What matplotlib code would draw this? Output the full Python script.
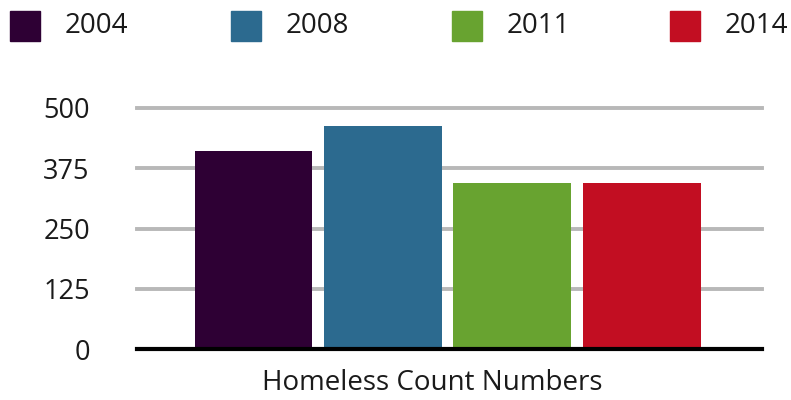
import matplotlib
matplotlib.use("Agg")
import matplotlib.pyplot as plt
from matplotlib.patches import Rectangle

# Data
years = ["2004", "2008", "2011", "2014"]
counts = [410, 462, 344, 344]
colors = ["#2e0034", "#2c6a8f", "#68a330", "#c20e22"]
y_ticks = [0, 125, 250, 375, 500]
x_label = "Homeless Count Numbers"

W, H, DPI = 791, 400, 100
plt.rcParams["font.family"] = ["Open Sans", "DejaVu Sans"]

fig = plt.figure(figsize=(W / DPI, H / DPI), dpi=DPI)
ax = fig.add_axes([137 / W, 1 - 349 / H, (762 - 137) / W, (349 - 108) / H])

positions = list(range(len(years)))
ax.bar(positions, counts, width=0.91, color=colors, zorder=3)

ax.set_xlim(-0.9, 3.93)
ax.set_ylim(0, 500)
ax.set_yticks(y_ticks)
ax.set_yticklabels([str(t) for t in y_ticks], fontsize=19.5, color="#1a1a1a")
ax.set_xticks([])
ax.tick_params(axis="y", length=0, pad=34)
ax.yaxis.grid(True, color="#b8b8b8", linewidth=2.8, zorder=0)
for gl in ax.get_ygridlines():
    gl.set_clip_on(False)
ax.set_axisbelow(True)
for side in ["top", "right", "left"]:
    ax.spines[side].set_visible(False)
ax.spines["bottom"].set_color("#000000")
ax.spines["bottom"].set_linewidth(3)
ax.spines["bottom"].set_zorder(4)

fig.text(432 / W, 1 - 383 / H, x_label, ha="center", va="center",
         fontsize=20, color="#1a1a1a")

# Legend row along the top
legend_x = [10, 231, 452, 670]
for x0, label, c in zip(legend_x, years, colors):
    fig.patches.append(Rectangle((x0 / W, 1 - 41 / H), 30 / W, 30 / H,
                                 transform=fig.transFigure, color=c))
    fig.text((x0 + 55) / W, 1 - 26 / H, label, ha="left", va="center",
             fontsize=20, color="#1a1a1a")

fig.savefig("out.png", dpi=DPI)
